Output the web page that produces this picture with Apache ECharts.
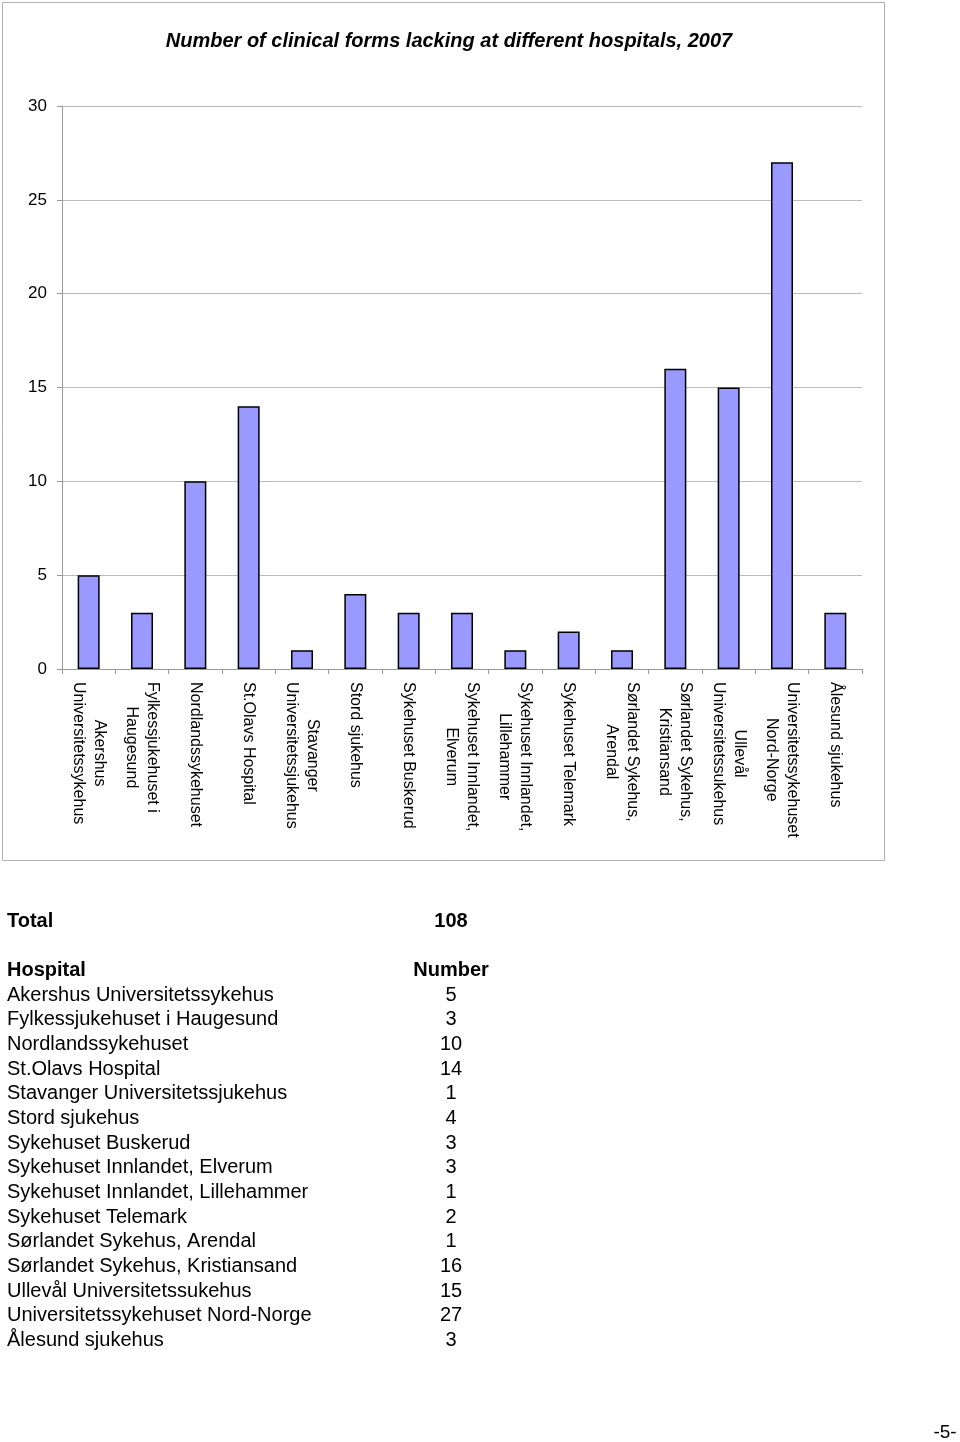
<!DOCTYPE html>
<html>
<head>
<meta charset="utf-8">
<script src="https://cdn.jsdelivr.net/npm/echarts@6/dist/echarts.min.js"></script>
<style>
html,body{margin:0;padding:0;background:#fff;}
#c{width:960px;height:1442px;}
</style>
</head>
<body>
<div id="c"></div>
<script>
const titleText = 'Number of clinical forms lacking at different hospitals, 2007';
const hospitalLabels = [
  'Akershus\nUniversitetssykehus',
  'Fylkessjukehuset i\nHaugesund',
  'Nordlandssykehuset',
  'St.Olavs Hospital',
  'Stavanger\nUniversitetssjukehus',
  'Stord sjukehus',
  'Sykehuset Buskerud',
  'Sykehuset Innlandet,\nElverum',
  'Sykehuset Innlandet,\nLillehammer',
  'Sykehuset Telemark',
  'Sørlandet Sykehus,\nArendal',
  'Sørlandet Sykehus,\nKristiansand',
  'Ullevål\nUniversitetssukehus',
  'Universitetssykehuset\nNord-Norge',
  'Ålesund sjukehus'
];
const counts = [5, 3, 10, 14, 1, 4, 3, 3, 1, 2, 1, 16, 15, 27, 3];
const yTicks = { min: 0, max: 30, interval: 5 };
const totalLabel = 'Total';
const totalValue = 108;
const headerHospital = 'Hospital';
const headerNumber = 'Number';
const pageNumber = '-5-';

const FONT = 'Liberation Sans, Arial, sans-serif';
const chart = echarts.init(document.getElementById('c'), null, { renderer: 'canvas' });

const graphics = [];
graphics.push({
  type: 'rect', z: -1,
  shape: { x: 2.5, y: 2.5, width: 882, height: 858 },
  style: { fill: 'none', stroke: '#b0b0b0', lineWidth: 1 }
});
graphics.push({
  type: 'text', x: 449, y: 41,
  style: { text: titleText, font: 'italic bold 20px ' + FONT, fill: '#000', textAlign: 'center', textVerticalAlign: 'middle' }
});
graphics.push({
  type: 'text', x: 7, y: 921,
  style: { text: totalLabel, font: 'bold 20px ' + FONT, fill: '#000', textAlign: 'left', textVerticalAlign: 'middle' }
});
graphics.push({
  type: 'text', x: 451, y: 921,
  style: { text: String(totalValue), font: 'bold 20px ' + FONT, fill: '#000', textAlign: 'center', textVerticalAlign: 'middle' }
});
graphics.push({
  type: 'text', x: 7, y: 970,
  style: { text: headerHospital, font: 'bold 20px ' + FONT, fill: '#000', textAlign: 'left', textVerticalAlign: 'middle' }
});
graphics.push({
  type: 'text', x: 451, y: 970,
  style: { text: headerNumber, font: 'bold 20px ' + FONT, fill: '#000', textAlign: 'center', textVerticalAlign: 'middle' }
});
hospitalLabels.forEach(function (lab, i) {
  const y = 995 + i * 24.68;
  graphics.push({
    type: 'text', x: 7, y: y,
    style: { text: lab.replace('\n', ' '), font: '20px ' + FONT, fill: '#000', textAlign: 'left', textVerticalAlign: 'middle' }
  });
  graphics.push({
    type: 'text', x: 451, y: y,
    style: { text: String(counts[i]), font: '20px ' + FONT, fill: '#000', textAlign: 'center', textVerticalAlign: 'middle' }
  });
});
graphics.push({
  type: 'text', x: 945, y: 1433,
  style: { text: pageNumber, font: '19px ' + FONT, fill: '#000', textAlign: 'center', textVerticalAlign: 'middle' }
});

chart.setOption({
  animation: false,
  backgroundColor: '#fff',
  grid: { left: 62, right: 98, top: 106, bottom: 773, containLabel: false },
  xAxis: {
    type: 'category',
    data: hospitalLabels,
    boundaryGap: true,
    axisLine: { lineStyle: { color: '#999', width: 1 } },
    axisTick: { show: true, length: 5, lineStyle: { color: '#999' } },
    axisLabel: {
      interval: 0, rotate: -90, margin: 13,
      fontFamily: FONT, fontSize: 16, color: '#000', lineHeight: 21,
      formatter: function (v) {
        return v.split('\n').map(function (s) { return '{c|' + s + '}'; }).join('\n');
      },
      rich: {
        c: { align: 'center', fontFamily: FONT, fontSize: 16, color: '#000', lineHeight: 21 }
      }
    },
    splitLine: { show: false }
  },
  yAxis: {
    type: 'value',
    min: yTicks.min, max: yTicks.max, interval: yTicks.interval,
    axisLine: { show: true, lineStyle: { color: '#999', width: 1 } },
    axisTick: { show: true, length: 5, lineStyle: { color: '#999' } },
    axisLabel: { margin: 15, fontFamily: FONT, fontSize: 17, color: '#000' },
    splitLine: { show: true, lineStyle: { color: '#bbb', width: 1 } }
  },
  series: [{
    type: 'bar',
    data: counts,
    barWidth: 22,
    itemStyle: { color: '#9999FF', borderColor: '#000', borderWidth: 1.5 }
  }],
  graphic: graphics
});
</script>
</body>
</html>
